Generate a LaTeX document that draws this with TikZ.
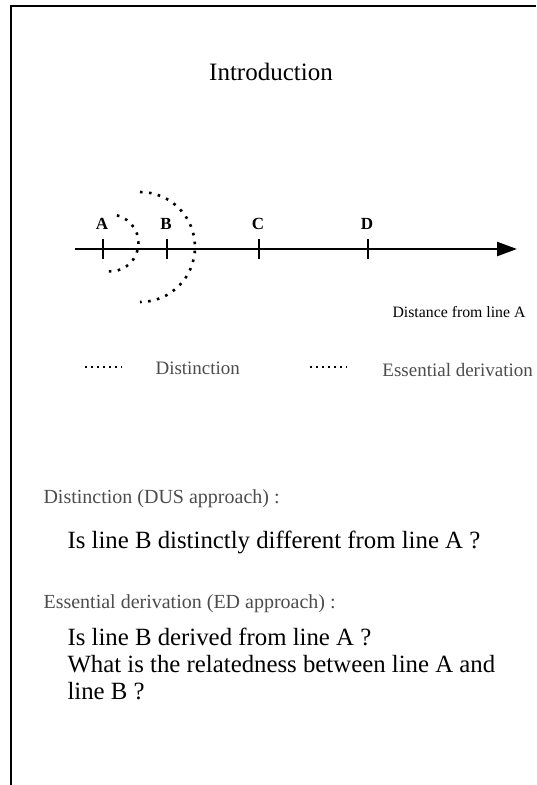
\documentclass[tikz,border=0pt]{standalone}
\usepackage{fontspec}
\setmainfont{Liberation Serif}
\usepackage{xcolor}
\usetikzlibrary{arrows.meta, positioning}

\definecolor{scangray}{gray}{0.3}
\tikzset{
  dotline/.style={line width=2.6pt, dash pattern=on 2.6pt off 6.4pt},
  legdots/.style={line width=1.5pt, dash pattern=on 1.5pt off 4.5pt},
  tickmark/.style={line width=2.4pt},
  bodytext/.style={anchor=base west, font=\fontsize{24.8}{27}\selectfont},
  headtext/.style={anchor=base west, text=scangray, font=\fontsize{20}{22}\selectfont},
  legtext/.style={text=scangray, font=\fontsize{19}{22}\selectfont},
}

\begin{document}
\begin{tikzpicture}[x=1pt, y=-1pt]
			\useasboundingbox (0,0) rectangle (536,785);
			% Frame:
			\draw[line width=2.2pt] (11,785) -- (11,6) -- (536,6);
			\node[anchor=base, font=\fontsize{25}{30}\selectfont](title) at (271,80){Introduction};
			% Axis, ticks and labels:
			\coordinate (axisL) at (75,249);
			\coordinate (axisR) at (517,249);
			\draw[line width=2.5pt, -{Triangle[length=20pt,width=14pt]}] (axisL) -- (axisR);
			\foreach \name/\x in {A/103, B/167, C/259, D/368}{
				\coordinate (t\name) at (\x,249);
				\draw[tickmark] ([yshift=10pt]t\name) -- ([yshift=-10pt]t\name);
				\node[anchor=base, font=\fontsize{17}{20}\selectfont\bfseries](l\name) at (\x-1,229){\name};
			}
			\draw[dotline] (110,243) ++(-76:28.5) arc[start angle=-76, end angle=96, radius=28.5];
			\draw[dotline] (140,247) ++(-90:55) arc[start angle=-90, end angle=90, radius=55];
			\node[anchor=base east, font=\fontsize{15.8}{18}\selectfont](dist) at (529,317){Distance from line A};
			% Legend:
			\coordinate (leg1a) at (85,367);
			\coordinate (leg1b) at (122,367);
			\coordinate (leg2a) at (310,367);
			\coordinate (leg2b) at (347,367);
			\draw[legdots] (leg1a) -- (leg1b);
			\draw[legdots] (leg2a) -- (leg2b);
			\node[legtext, anchor=base west](leg1) at (152,374){Distinction};
			\node[legtext, anchor=base east, inner xsep=0pt](leg2) at (533,376){Essential derivation};
			% Questions:
			\node[headtext](dus) at (40,503){Distinction (DUS approach) :};
			\node[bodytext](q1) at (64,548){Is line B distinctly different from line A ?};
			\node[headtext](ed) at (40,608){Essential derivation (ED approach) :};
			\node[bodytext](q2) at (64,645){Is line B derived from line A ?};
			\node[bodytext](q3) at (64,672){What is the relatedness between line A and};
			\node[bodytext](q4) at (64,699){line B ?};
		\end{tikzpicture}
\end{document}
